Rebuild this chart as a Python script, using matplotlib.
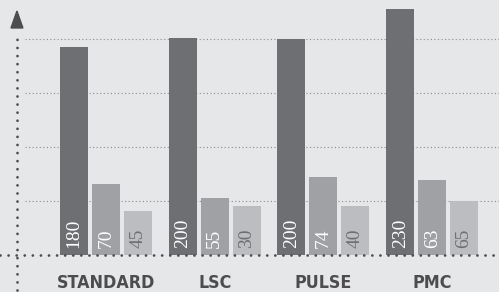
import numpy as np
import matplotlib
matplotlib.use('Agg')
import matplotlib.pyplot as plt

# groups and the three bars in each one
categories = ['STANDARD', 'LSC', 'PULSE', 'PMC']
# printed numbers on the bars
label_a = [180, 200, 200, 230]
label_b = [70, 55, 74, 63]
label_c = [45, 30, 40, 65]
# bar heights as drawn (grid step = 50)
height_a = [193, 201, 200, 228]
height_b = [66, 53, 72.5, 69]
height_c = [41, 45.5, 45.5, 50]
grid_vals = [50, 100, 150, 200]

bg = '#e6e7e8'
bar_cols = ['#6e6f73', '#a0a1a4', '#bcbdc1']
txt_cols = ['white', 'white', '#6e6f73']

fig = plt.figure(figsize=(4.99, 2.92), dpi=100, facecolor=bg)
ax = fig.add_axes([0, 0, 1, 1])
ax.set_facecolor(bg)
ax.set_xlim(-0.975, 3.615)
ax.set_ylim(-34.3, 236.1)
ax.axis('off')

x = np.arange(len(categories))
off = 0.294
w = 0.258

# grid lines behind the bars
ax.hlines(grid_vals, -0.745, 3.615, colors='#8a8b8e', linestyles=(0, (1, 2.2)),
          linewidth=0.8, zorder=1)

for i, (h, lab) in enumerate([(height_a, label_a), (height_b, label_b), (height_c, label_c)]):
    xs = x + (i - 1) * off
    ax.bar(xs, h, width=w, color=bar_cols[i], zorder=2)
    for xx, v in zip(xs, lab):
        ax.text(xx, 6.5, str(v), rotation=90, ha='center', va='bottom',
                fontsize=14, color=txt_cols[i], family=['Liberation Serif', 'DejaVu Serif'],
                zorder=3)

# base line and y axis, big round dots
dot = dict(colors='#4d4d4f', linestyles=(0, (0.01, 2.9)), linewidth=2.0, zorder=4)
ax.hlines(0, -0.975, 3.615, **dot).set_capstyle('round')
yx = -0.819
ax.vlines(yx, -32.5, 205.5, **dot).set_capstyle('round')
ax.fill([yx - 0.055, yx, yx + 0.055], [210.2, 225.9, 210.2], color='#4d4d4f', zorder=4)

for xx, c in zip(x, categories):
    ax.text(xx, -26, c, ha='center', va='center', fontsize=12.8, fontweight='bold',
            fontstretch='condensed', color='#4d4d4f', family='DejaVu Sans')

fig.savefig('out.png', dpi=100, facecolor=bg)
